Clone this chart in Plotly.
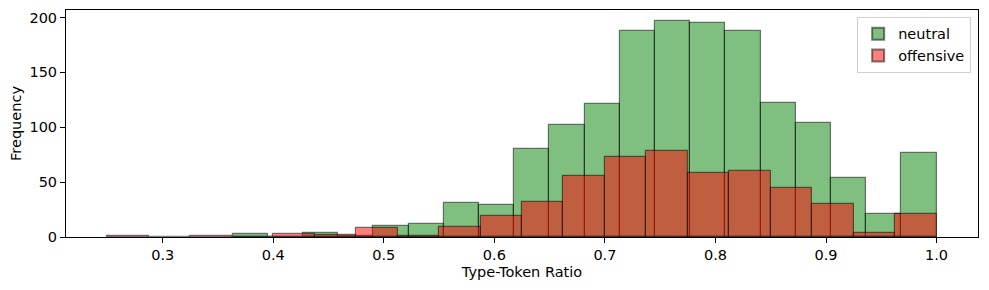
import numpy as np
import plotly.graph_objects as go

# Neutral histogram: 20 bins between these edges
neutral_range = [0.3632, 1.0]
neutral_counts = [3, 0, 4, 1, 10, 12, 31, 29, 80, 102,
                  121, 188, 197, 195, 188, 122, 104, 54, 21, 77]

# Offensive histogram: 20 bins between these edges
offensive_range = [0.25, 1.0]
offensive_counts = [1, 0, 1, 0, 3, 2, 8, 1, 9, 19,
                    32, 56, 73, 78, 58, 60, 45, 30, 4, 21]

x_ticks = [0.3, 0.4, 0.5, 0.6, 0.7, 0.8, 0.9, 1.0]
y_ticks = [0, 50, 100, 150, 200]


def bins(rng, counts):
    edges = np.linspace(rng[0], rng[1], len(counts) + 1)
    centers = (edges[:-1] + edges[1:]) / 2
    width = edges[1] - edges[0]
    return centers, width


fig = go.Figure()
nc, nw = bins(neutral_range, neutral_counts)
oc, ow = bins(offensive_range, offensive_counts)

fig.add_trace(go.Bar(
    x=nc, y=neutral_counts, width=nw, name="neutral",
    marker=dict(color="rgba(0,128,0,0.5)",
                line=dict(color="rgba(0,0,0,0.5)", width=1.2)),
))
fig.add_trace(go.Bar(
    x=oc, y=offensive_counts, width=ow, name="offensive",
    marker=dict(color="rgba(255,0,0,0.5)",
                line=dict(color="rgba(0,0,0,0.5)", width=1.2)),
))

font = dict(family="DejaVu Sans", size=14.5, color="black")
fig.update_layout(
    width=981, height=282,
    margin=dict(l=58, r=11, t=2, b=53, autoexpand=False),
    barmode="overlay", bargap=0,
    plot_bgcolor="white", paper_bgcolor="white",
    font=font,
    showlegend=True,
    legend=dict(x=0.9925, y=0.97, xanchor="right", yanchor="top",
                bordercolor="#d0d0d0", borderwidth=1, bgcolor="rgba(255,255,255,0.8)",
                font=dict(family="DejaVu Sans", size=14.5),
                itemsizing="constant", tracegroupgap=0),
    xaxis=dict(range=[0.2125, 1.0375], tickvals=x_ticks, tickformat=".1f",
               ticks="outside", ticklen=5, tickcolor="black", automargin=False,
               showline=True, linecolor="black", mirror=True, showgrid=False,
               zeroline=False,
               title=dict(text="Type-Token Ratio", font=font, standoff=4)),
    yaxis=dict(range=[0, 206.85], tickvals=y_ticks, automargin=False,
               ticks="outside", ticklen=5, tickcolor="black",
               showline=True, linecolor="black", mirror=True, showgrid=False,
               zeroline=False,
               title=dict(text="Frequency", font=font, standoff=6)),
)

fig.write_html("out.html")
